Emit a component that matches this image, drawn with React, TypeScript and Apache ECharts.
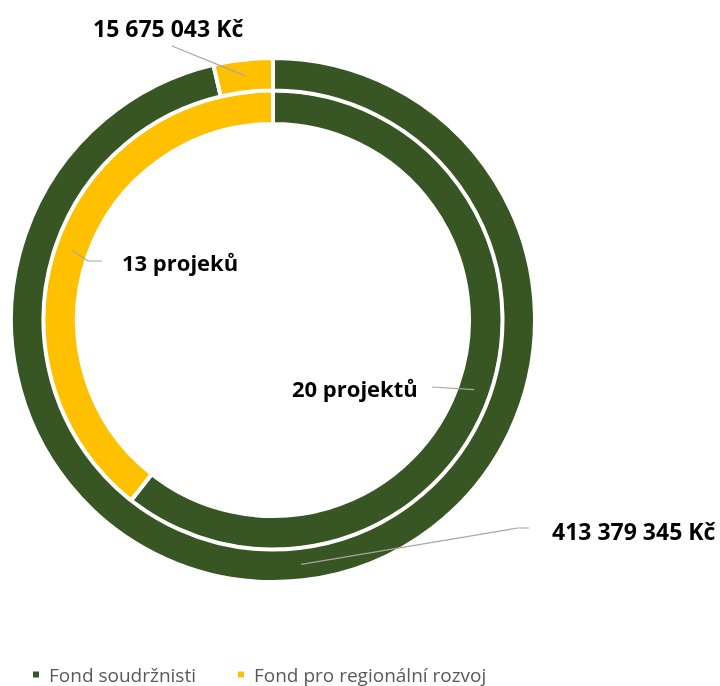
import React, { useEffect, useRef } from "react";
import * as echarts from "echarts";

const categories = ["Fond soudržnisti", "Fond pro regionální rozvoj"];
const amountsCzk = [413379345, 15675043];
const projectCounts = [20, 13];
const projectWords = ["projektů", "projeků"];
const colors = ["#375623", "#FFC000"];

const CX = 273;
const CY = 320;
const OUTER_R: [number, number] = [229.5, 262];
const INNER_R: [number, number] = [196, 230];
const OUTER_MID = 246;
const INNER_MID = 213;

// label placement (left x, center y) and guide-line bend points, per ring & index
const outerLabelPos = [
  { x: 552, y: 531, bend: [[518, 528], [529, 528]] },
  { x: 93, y: 28, bend: [[172, 46]] },
];
const innerLabelPos = [
  { x: 292, y: 388, bend: [[432, 387]] },
  { x: 122, y: 262, bend: [[88, 261], [102, 261]] },
];

function fmtCzk(v: number): string {
  return String(v).replace(/\B(?=(\d{3})+(?!\d))/g, " ") + " Kč";
}

function anchors(values: number[], r: number): number[][] {
  const total = values.reduce((a, b) => a + b, 0);
  let cum = 0;
  return values.map((v) => {
    const th = ((cum + v / 2) / total) * Math.PI * 2;
    cum += v;
    return [CX + r * Math.sin(th), CY - r * Math.cos(th)];
  });
}

export default function App() {
  const ref = useRef<HTMLDivElement>(null);
  useEffect(() => {
    if (!ref.current) return;
    const chart = echarts.init(ref.current, null, { renderer: "svg" });
    const outerA = anchors(amountsCzk, OUTER_MID);
    const innerA = anchors(projectCounts, INNER_MID);
    const labelFont = {
      fontFamily: "'Open Sans', sans-serif",
      fontWeight: "bold" as const,
      fill: "#000000",
    };
    const graphics: any[] = [];
    amountsCzk.forEach((v, i) => {
      const p = outerLabelPos[i];
      graphics.push({
        type: "polyline",
        silent: true,
        shape: { points: [outerA[i], ...p.bend] },
        style: { stroke: "#A6A6A6", lineWidth: 1.2, fill: null },
        z: 10,
      });
      graphics.push({
        type: "text",
        x: p.x,
        y: p.y,
        style: { text: fmtCzk(v), ...labelFont, fontSize: 23, verticalAlign: "middle", align: "left" },
        z: 11,
      });
    });
    projectCounts.forEach((v, i) => {
      const p = innerLabelPos[i];
      graphics.push({
        type: "polyline",
        silent: true,
        shape: { points: [innerA[i], ...p.bend] },
        style: { stroke: "#A6A6A6", lineWidth: 1.2, fill: null },
        z: 10,
      });
      graphics.push({
        type: "text",
        x: p.x,
        y: p.y,
        style: { text: `${v} ${projectWords[i]}`, ...labelFont, fontSize: 22, verticalAlign: "middle", align: "left" },
        z: 11,
      });
    });

    chart.setOption({
      animation: false,
      color: colors,
      legend: {
        data: categories,
        left: 31,
        top: 665,
        padding: 0,
        icon: "rect",
        itemWidth: 8,
        itemHeight: 8,
        itemGap: 40,
        textStyle: {
          fontFamily: "'Open Sans', sans-serif",
          fontSize: 19,
          lineHeight: 19,
          color: "#595959",
          padding: [0, 0, 0, 4],
        },
      },
      series: [
        {
          type: "pie",
          name: "inner",
          center: [CX, CY],
          radius: INNER_R,
          startAngle: 90,
          clockwise: true,
          silent: true,
          label: { show: false },
          labelLine: { show: false },
          itemStyle: { borderColor: "#ffffff", borderWidth: 4 },
          data: categories.map((c, i) => ({ name: c, value: projectCounts[i] })),
        },
        {
          type: "pie",
          name: "outer",
          center: [CX, CY],
          radius: OUTER_R,
          startAngle: 90,
          clockwise: true,
          silent: true,
          label: { show: false },
          labelLine: { show: false },
          itemStyle: { borderColor: "#ffffff", borderWidth: 4 },
          data: categories.map((c, i) => ({ name: c, value: amountsCzk[i] })),
        },
      ],
      graphic: graphics,
    });
    return () => chart.dispose();
  }, []);
  return (
    <div
      ref={ref}
      style={{ position: "fixed", left: 0, top: 0, width: 720, height: 686 }}
    />
  );
}
